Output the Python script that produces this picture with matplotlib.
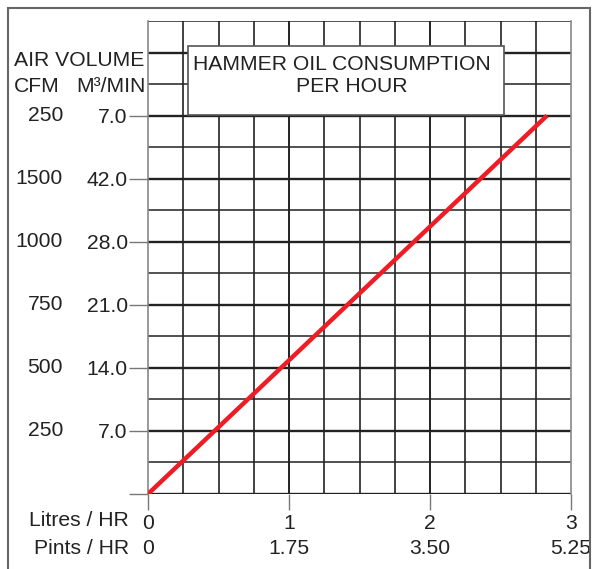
import numpy as np
from matplotlib import pyplot as plt
from matplotlib.patches import Rectangle
from matplotlib.transforms import blended_transform_factory

plt.rcParams['font.family'] = ['Liberation Sans', 'DejaVu Sans']

# consumption line (litres/hr vs m3/min)
litres = [0, 2.83]
air_m3 = [0, 42.0]

# y axis rows (3.5 m3/min each), labelled rows as printed on the chart
y_ticks = [7, 14, 21, 28, 35, 42]
m3_labels = ['7.0', '14.0', '21.0', '28.0', '42.0', '7.0']
cfm_labels = ['250', '500', '750', '1000', '1500', '250']

x_ticks = [0, 1, 2, 3]
litre_labels = ['0', '1', '2', '3']
pint_labels = ['0', '1.75', '3.50', '5.25']

FS = 15.2
TXT = '#222222'

fig = plt.figure(figsize=(5.92, 5.69), dpi=100)
ax = fig.add_axes([148 / 592, 75 / 569, 423 / 592, 473 / 569])
ax.set_xlim(0, 3)
ax.set_ylim(0, 52.5)

grid_col = '#222222'
for i, yv in enumerate(np.arange(0, 52.51, 3.5)):
    lw = 1.7 if i % 2 == 0 else 1.1
    ax.axhline(yv, color=grid_col, lw=lw, zorder=1)
for i, xv in enumerate(np.arange(0, 3.01, 0.25)):
    if i == 0 or i == 12:
        ax.axvline(xv, color='#888888', lw=1.2, zorder=1, clip_on=False)
    else:
        ax.axvline(xv, color=grid_col, lw=1.2 if i % 4 else 1.4, zorder=1)

for s in ax.spines.values():
    s.set_visible(False)

ax.plot(litres, air_m3, color='#ee1c25', lw=3.2, solid_capstyle='butt', zorder=3)

ax.set_yticks([0] + y_ticks)
ax.set_yticklabels([''] + m3_labels, fontsize=FS, color=TXT)
ax.tick_params(axis='y', length=13.5, width=1, color='#777777', pad=1)
ax.set_xticks(x_ticks)
ax.set_xticklabels(litre_labels, fontsize=FS, color=TXT)
ax.tick_params(axis='x', length=11.5, width=1, color='#777777', pad=3)

# CFM column
tr_y = blended_transform_factory(fig.transFigure, ax.transData)
for yv, lab in zip(y_ticks, cfm_labels):
    ax.text(63 / 592, yv, lab, transform=tr_y, ha='right', va='center',
            fontsize=FS, color=TXT)

# pints row
tr_x = blended_transform_factory(ax.transData, fig.transFigure)
for xv, lab in zip(x_ticks, pint_labels):
    ax.text(xv, 1 - 549 / 569, lab, transform=tr_x, ha='center', va='center',
            fontsize=FS, color=TXT)

fig.text(14 / 592, 1 - 60 / 569, 'AIR VOLUME', ha='left', va='center', fontsize=FS, color=TXT)
fig.text(14 / 592, 1 - 86 / 569, 'CFM', ha='left', va='center', fontsize=FS, color=TXT)
fig.text(146 / 592, 1 - 86 / 569, 'M³/MIN', ha='right', va='center', fontsize=FS, color=TXT)
fig.text(129 / 592, 1 - 521 / 569, 'Litres / HR', ha='right', va='center', fontsize=FS, color=TXT)
fig.text(129 / 592, 1 - 549 / 569, 'Pints / HR', ha='right', va='center', fontsize=FS, color=TXT)

# title box
box = Rectangle((40 / 423, 379 / 473), 316 / 423, 69 / 473, transform=ax.transAxes,
                facecolor='white', edgecolor='#555555', lw=1.2, zorder=4)
ax.add_patch(box)
fig.text(342 / 592, 1 - 64 / 569, 'HAMMER OIL CONSUMPTION', ha='center', va='center',
         fontsize=FS, color=TXT, zorder=5)
fig.text(352 / 592, 1 - 87 / 569, 'PER HOUR', ha='center', va='center',
         fontsize=FS, color=TXT, zorder=5)

# outer frame
fig.patches.append(Rectangle((8 / 592, -0.02), 582 / 592, 1.006, transform=fig.transFigure,
                             facecolor='none', edgecolor='#666666', lw=1.5))

fig.savefig('out.png', dpi=100)
